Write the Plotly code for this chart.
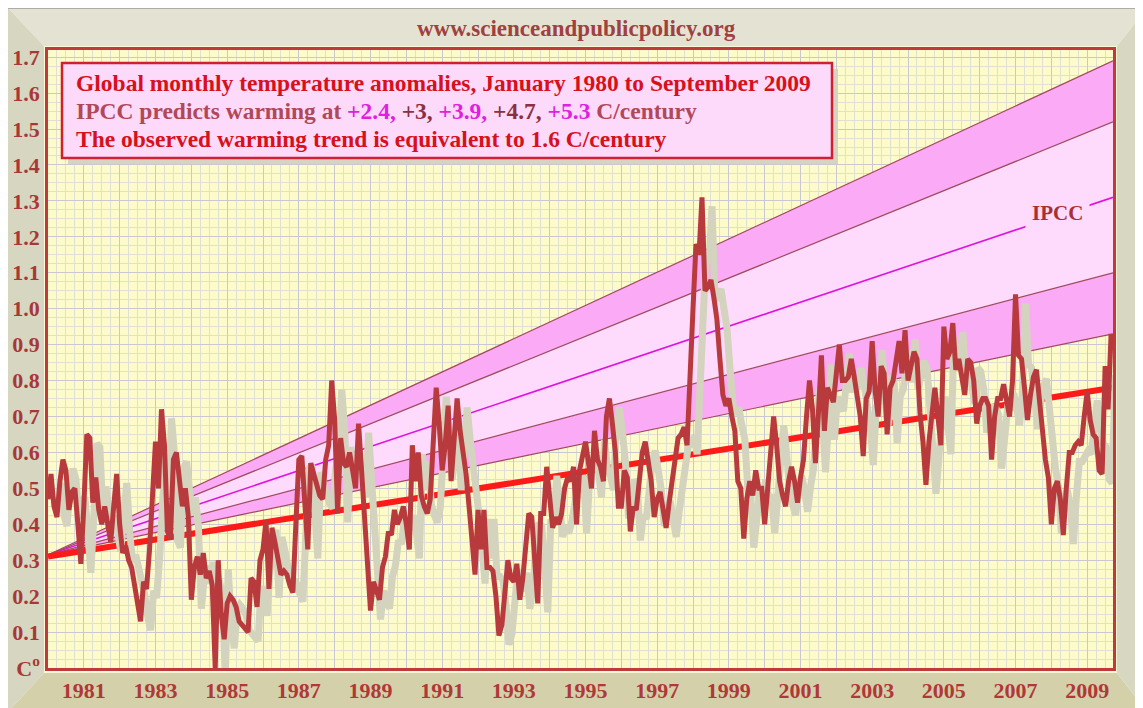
import plotly.graph_objects as go

# ---------------- data ----------------
start_year = 1980
anomaly = [
    0.47, 0.54, 0.45, 0.42, 0.52, 0.58, 0.55, 0.44, 0.49, 0.50, 0.40, 0.29,
    0.45, 0.65, 0.64, 0.46, 0.53, 0.44, 0.40, 0.45, 0.40, 0.35, 0.45, 0.54,
    0.40, 0.32, 0.34, 0.30, 0.28, 0.23, 0.17, 0.13, 0.24, 0.22, 0.33, 0.52,
    0.63, 0.50, 0.72, 0.62, 0.38, 0.36, 0.58, 0.60, 0.53, 0.45, 0.50, 0.42,
    0.19, 0.28, 0.31, 0.26, 0.32, 0.25, 0.27, 0.23, 0.00, 0.30, 0.15, 0.08,
    0.18, 0.20, 0.19, 0.17, 0.13, 0.12, 0.11, 0.10, 0.25, 0.24, 0.17, 0.30,
    0.33, 0.41, 0.22, 0.39, 0.35, 0.30, 0.26, 0.27, 0.26, 0.23, 0.21, 0.40,
    0.58, 0.59, 0.45, 0.33, 0.57, 0.54, 0.50, 0.48, 0.47, 0.58, 0.62, 0.80,
    0.69, 0.43, 0.64, 0.57, 0.56, 0.60, 0.55, 0.50, 0.68, 0.55, 0.42, 0.30,
    0.16, 0.24, 0.21, 0.19, 0.28, 0.31, 0.38, 0.37, 0.44, 0.40, 0.42, 0.45,
    0.40, 0.33, 0.62, 0.52, 0.60, 0.48, 0.45, 0.43, 0.47, 0.60, 0.78, 0.68,
    0.55, 0.62, 0.73, 0.52, 0.65, 0.75, 0.66, 0.60, 0.54, 0.45, 0.36, 0.26,
    0.44, 0.33, 0.44, 0.28, 0.28, 0.27, 0.20, 0.09, 0.12, 0.22, 0.30, 0.25,
    0.24, 0.29, 0.19, 0.25, 0.34, 0.43, 0.42, 0.30, 0.18, 0.43, 0.43, 0.56,
    0.46, 0.39, 0.42, 0.40, 0.43, 0.50, 0.53, 0.52, 0.56, 0.40, 0.55, 0.60,
    0.63, 0.57, 0.50, 0.66, 0.58, 0.56, 0.52, 0.70, 0.75, 0.68, 0.60, 0.45,
    0.45, 0.55, 0.53, 0.38, 0.45, 0.44, 0.52, 0.60, 0.63, 0.57, 0.52, 0.42,
    0.47, 0.49, 0.43, 0.39, 0.46, 0.52, 0.60, 0.64, 0.65, 0.67, 0.62, 0.78,
    1.00, 1.18, 1.15, 1.31, 1.05, 1.06, 1.08, 1.03, 0.97, 0.86, 0.76, 0.73,
    0.75, 0.70, 0.66, 0.52, 0.50, 0.36, 0.47, 0.52, 0.48, 0.55, 0.50, 0.50,
    0.40, 0.50, 0.62, 0.70, 0.62, 0.52, 0.48, 0.45, 0.52, 0.56, 0.52, 0.46,
    0.53, 0.58, 0.70, 0.80, 0.72, 0.57, 0.71, 0.87, 0.66, 0.78, 0.76, 0.74,
    0.82, 0.90, 0.80, 0.80, 0.81, 0.86, 0.81, 0.76, 0.70, 0.59, 0.75, 0.77,
    0.91, 0.77, 0.70, 0.84, 0.82, 0.65, 0.78, 0.80, 0.86, 0.91, 0.82, 0.94,
    0.80, 0.85, 0.88, 0.86, 0.71, 0.63, 0.51, 0.63, 0.72, 0.78, 0.70, 0.62,
    0.95, 0.86, 0.88, 0.96, 0.83, 0.86, 0.81, 0.76, 0.86, 0.85, 0.80, 0.68,
    0.73, 0.75, 0.75, 0.73, 0.58, 0.70, 0.75, 0.75, 0.79, 0.75, 0.70, 0.80,
    1.04, 0.87, 0.86, 0.78, 0.69, 0.76, 0.81, 0.83, 0.74, 0.66, 0.58, 0.53,
    0.40, 0.50, 0.52, 0.47, 0.37, 0.50, 0.60, 0.60, 0.62, 0.63, 0.62, 0.70,
    0.77, 0.69, 0.65, 0.64, 0.55, 0.54, 0.84, 0.72, 0.93,
]
months = [start_year + i / 12 for i in range(len(anomaly))]

# IPCC projection fan (start / end points)
fan_x = [1980.0, 2009.72]
fan_start = 0.315
fan_labels = ["+2.4", "+3", "+3.9", "+4.7", "+5.3"]
fan_end = [0.93, 1.10, 1.31, 1.52, 1.69]

# observed trend (1.6 C/century)
trend_x = [1980.0, 2009.72]
trend_y = [0.31, 0.78]

# tick labels
x_tickvals = list(range(1980, 2010))
x_ticktext = [str(y) if y % 2 == 1 else " " for y in x_tickvals]
y_tickvals = [round(v * 0.1, 1) for v in range(0, 18)]
y_ticktext = ["C<sup>o</sup>"] + ["%.1f" % v for v in y_tickvals[1:]]

# ---------------- style ----------------
SERIF = "Liberation Serif, Times New Roman, serif"
DARKRED = "#a83838"
X0, X1 = 1980.0, 2009.72
Y0, Y1 = 0.0, 1.72
SHX, SHY = 0.28, 0.025  # shadow offset (in axis units)

# window coordinates of the plot area
PL, PR, PT, PB = 48, 1113, 50, 668
W, H = 1143, 708
OFF = 8  # page body margin
FW, FH = W - OFF, H - OFF


def P(px, py):
    return (px - PL) / (PR - PL), (PB - py) / (PB - PT)


def path(points):
    s = ""
    for k, (px, py) in enumerate(points):
        x, y = P(px, py)
        s += ("M" if k == 0 else "L") + "%.5f,%.5f " % (x, y)
    return s + "Z"


fig = go.Figure()

# fan: bottom line first, then fills upward
dark_pink = "#fbaaf6"
light_pink = "#fedafc"
fills = [None, dark_pink, light_pink, light_pink, dark_pink]
line_cols = ["#a04a5c", "#a04a5c", "#e010e0", "#a04a5c", "#a04a5c"]
for k in range(5):
    fig.add_trace(go.Scatter(
        x=fan_x, y=[fan_start, fan_end[k]], mode="lines",
        line=dict(color=line_cols[k], width=1.6 if k == 2 else 1.2),
        fill=None if fills[k] is None else "tonexty",
        fillcolor=fills[k], showlegend=False, hoverinfo="skip",
        name=fan_labels[k]))

# trend line
fig.add_trace(go.Scatter(x=trend_x, y=trend_y, mode="lines",
                         line=dict(color="#ff1a1a", width=6),
                         showlegend=False, hoverinfo="skip"))

# shadow of the data (overlay axes, offset)
fig.add_trace(go.Scatter(x=months, y=anomaly, mode="lines",
                         line=dict(color="#d3d3be", width=7),
                         xaxis="x2", yaxis="y2", showlegend=False,
                         hoverinfo="skip"))

# data
fig.add_trace(go.Scatter(x=months, y=anomaly, mode="lines",
                         line=dict(color="#b83a3c", width=5),
                         xaxis="x3", yaxis="y3", showlegend=False))

shapes = []
# frame bevel
shapes.append(dict(type="path", xref="paper", yref="paper", layer="below",
                   path=path([(7, 7), (W + 5, 7), (1117, 46), (44, 46)]),
                   fillcolor="#e4e3d3", line=dict(width=0)))
shapes.append(dict(type="path", xref="paper", yref="paper", layer="below",
                   path=path([(7, 7), (44, 46), (44, 673), (7, H + 5)]),
                   fillcolor="#d7d6c1", line=dict(width=0)))
shapes.append(dict(type="path", xref="paper", yref="paper", layer="below",
                   path=path([(7, H + 5), (44, 673), (1117, 673), (W + 5, H + 5)]),
                   fillcolor="#d4d0aa", line=dict(width=0)))
shapes.append(dict(type="path", xref="paper", yref="paper", layer="below",
                   path=path([(W + 5, 7), (1117, 46), (1117, 673), (W + 5, H + 5)]),
                   fillcolor="#d8d7c2", line=dict(width=0)))
# cream strip around plot
for (a, b, c, d) in [(44, 46, 1117, 50), (44, 668, 1117, 673),
                     (44, 50, 48, 668), (1113, 50, 1117, 668)]:
    shapes.append(dict(type="path", xref="paper", yref="paper", layer="below",
                       path=path([(a, b), (c, b), (c, d), (a, d)]),
                       fillcolor="#fbf8d8", line=dict(width=0)))
# grey top line
x0p, y0p = P(8, 8)
x1p, _ = P(W + 5, 8)
shapes.append(dict(type="line", xref="paper", yref="paper", x0=x0p, x1=x1p,
                   y0=y0p, y1=y0p, line=dict(color="#9a9a9a", width=1.5)))
# text box shadow + box
shapes.append(dict(type="path", xref="paper", yref="paper", layer="above",
                   path=path([(68, 69), (838, 69), (838, 164), (68, 164)]),
                   fillcolor="#d6d4c0", line=dict(width=0)))
shapes.append(dict(type="path", xref="paper", yref="paper", layer="above",
                   path=path([(62, 63), (832, 63), (832, 158), (62, 158)]),
                   fillcolor="#fdd9fa", line=dict(color="#d02030", width=2.5)))

annotations = []
ux, uy = P(576, 28)
annotations.append(dict(xref="paper", yref="paper", x=ux, y=uy,
                        text="<b>www.scienceandpublicpolicy.org</b>",
                        showarrow=False, xanchor="center", yanchor="middle",
                        font=dict(family=SERIF, size=23, color="#a04040")))
MAG = "#e020e0"
DK = "#8a3040"
lines = [
    ("<b>Global monthly temperature anomalies, January 1980 to September 2009</b>", "#d8101c", 83),
    ("<b>IPCC predicts warming at "
     "<span style='color:%s'>+2.4,</span> <span style='color:%s'>+3,</span> "
     "<span style='color:%s'>+3.9,</span> <span style='color:%s'>+4.7,</span> "
     "<span style='color:%s'>+5.3</span> C/century</b>" % (MAG, DK, MAG, DK, MAG),
     "#b04858", 111),
    ("<b>The observed warming trend is equivalent to 1.6 C/century</b>", "#d8101c", 139),
]
for txt, col, py in lines:
    ax, ay = P(74, py)
    annotations.append(dict(xref="paper", yref="paper", x=ax, y=ay, text=txt,
                            showarrow=False, xanchor="left", yanchor="middle",
                            font=dict(family=SERIF, size=23.5, color=col)))
# IPCC label on the central projection
annotations.append(dict(x=2008.17, y=1.265, xref="x", yref="y",
                        text="<b>IPCC</b>", showarrow=False,
                        bgcolor="#fedafc", borderpad=6,
                        font=dict(family=SERIF, size=21, color="#a83030")))

fig.update_layout(
    width=FW, height=FH,
    margin=dict(l=PL - OFF, r=FW - (PR - OFF), t=PT - OFF,
                b=FH - (PB - OFF), pad=0, autoexpand=False),
    paper_bgcolor="white",
    plot_bgcolor="#fdfbca",
    showlegend=False,
    shapes=shapes,
    annotations=annotations,
    xaxis=dict(range=[X0, X1], tickvals=x_tickvals, ticktext=x_ticktext,
               showgrid=True, gridcolor="#c9c8d0", gridwidth=1,
               minor=dict(dtick=0.25, tick0=1980, showgrid=True,
                          gridcolor="#e0dfd4", gridwidth=1),
               showline=True, linecolor="#c03a3a", linewidth=2.5, mirror=True,
               zeroline=False, ticks="", ticklabelstandoff=1,
               automargin=False,
               tickfont=dict(family=SERIF, size=22, color="#b03838",
                             weight="bold")),
    yaxis=dict(range=[Y0, Y1], tickvals=y_tickvals, ticktext=y_ticktext,
               showgrid=True, gridcolor="#c9c8d0", gridwidth=1,
               minor=dict(dtick=0.025, tick0=0, showgrid=True,
                          gridcolor="#e0dfd4", gridwidth=1),
               showline=True, linecolor="#c03a3a", linewidth=2.5, mirror=True,
               zeroline=False, ticks="", ticklabelstandoff=1,
               automargin=False,
               tickfont=dict(family=SERIF, size=22, color=DARKRED,
                             weight="bold")),
    xaxis2=dict(range=[X0 - SHX, X1 - SHX], overlaying="x", anchor="y2",
                visible=False),
    yaxis2=dict(range=[Y0 + SHY, Y1 + SHY], overlaying="y", anchor="x2",
                visible=False),
    xaxis3=dict(range=[X0, X1], overlaying="x", anchor="y3", visible=False),
    yaxis3=dict(range=[Y0, Y1], overlaying="y", anchor="x3", visible=False),
)

fig.write_html("out.html")
